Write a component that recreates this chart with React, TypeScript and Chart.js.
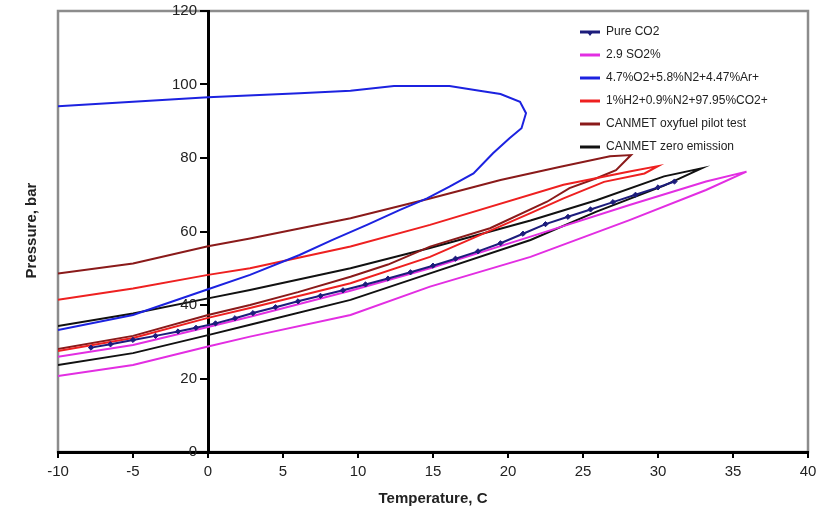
import React, { useEffect, useRef } from "react";
import { Chart, registerables } from "chart.js";

Chart.register(...registerables);

// ---- data (Temperature, C  /  Pressure, bar) ----
const seriesLabels = [
  "Pure CO2",
  "2.9 SO2%",
  "4.7%O2+5.8%N2+4.47%Ar+",
  "1%H2+0.9%N2+97.95%CO2+",
  "CANMET oxyfuel pilot test",
  "CANMET zero emission",
];

const pureT = [-7.8, -6.5, -5, -3.5, -2, -0.8, 0.5, 1.8, 3, 4.5, 6, 7.5, 9, 10.5, 12, 13.5, 15, 16.5, 18, 19.5, 21, 22.5, 24, 25.5, 27, 28.5, 30, 31.1];
const pureP = [28.4, 29.3, 30.5, 31.6, 32.8, 33.8, 35.0, 36.4, 37.8, 39.4, 41.0, 42.5, 44.0, 45.6, 47.2, 48.9, 50.7, 52.6, 54.6, 56.8, 59.4, 62.0, 64.0, 66.0, 68.0, 70.0, 72.0, 73.6];

const so2T = [-10, -5, 0, 2.8, 9.5, 14.8, 21.5, 28.1, 33.2, 35.9, 33.2, 28.1, 21.5, 14.8, 9.5, 2.8, 0, -5, -10];
const so2P = [25.9, 29.1, 34.0, 36.8, 43.9, 50.0, 58.6, 67.2, 73.6, 76.3, 71.3, 63.1, 53.1, 45.0, 37.3, 31.4, 28.7, 23.7, 20.7];

const o2T = [-10, -5, 0, 6.1, 9.5, 12.4, 16.1, 18.1, 19.5, 20.8, 21.2, 20.9, 20.1, 19.0, 17.7, 16.1, 14.6, 12.8, 10.6, 8.3, 6.1, 2.8, 0, -5, -10];
const o2P = [94.1, 95.3, 96.5, 97.6, 98.3, 99.6, 99.6, 98.3, 97.4, 95.3, 92.2, 88.1, 85.4, 81.3, 75.8, 72.2, 69.0, 65.9, 61.8, 57.7, 53.6, 48.2, 44.3, 37.3, 33.2];

const h2T = [-10, -5, 0, 2.8, 9.5, 14.8, 23.7, 28.1, 30.0, 29.1, 26.4, 23.7, 21.5, 14.8, 9.5, 2.8, 0, -5, -10];
const h2P = [41.4, 44.5, 48.2, 50.0, 55.9, 61.8, 72.7, 76.3, 77.8, 75.8, 73.5, 69.0, 65.0, 53.1, 45.9, 39.2, 36.5, 31.0, 27.5];

const oxyT = [-10, -5, 0, 2.8, 6.1, 9.5, 14.8, 19.5, 23.5, 26.8, 28.2, 27.2, 25.9, 24.1, 22.6, 18.8, 14.8, 12, 9.5, 6, 2.8, 0, -5, -10];
const oxyP = [48.6, 51.3, 56.0, 58.1, 60.8, 63.6, 69.0, 74.0, 77.6, 80.5, 80.8, 76.7, 74.5, 71.8, 68.1, 60.9, 55.9, 51.0, 47.7, 43.5, 40.0, 37.3, 31.6, 28.0];

const zeroT = [-10, -5, 0, 2.8, 9.5, 14.8, 21.5, 25.9, 30.4, 32.9, 30.4, 25.9, 21.5, 14.8, 9.5, 2.8, 0, -5, -10];
const zeroP = [34.3, 37.7, 41.8, 44.1, 50.0, 55.5, 63.0, 68.5, 75.0, 77.2, 72.5, 65.4, 57.7, 48.6, 41.4, 34.6, 31.8, 26.9, 23.7];

const seriesColors = ["#1c1c7c", "#e22ee2", "#1c22e0", "#ee2020", "#8a1a1a", "#111111"];

const xMin = -10, xMax = 40, xStep = 5;
const yMin = 0, yMax = 120, yStep = 20;

const FONT = "'Liberation Sans', Arial, sans-serif";

function pts(t: number[], p: number[]) {
  return t.map((x, i) => ({ x, y: p[i] }));
}

const framePlugin = {
  id: "frame",
  beforeDraw(chart: any) {
    const { ctx, chartArea: a } = chart;
    ctx.save();
    ctx.strokeStyle = "#8c8c8c";
    ctx.lineWidth = 2.5;
    ctx.strokeRect(a.left, a.top, a.right - a.left, a.bottom - a.top);
    ctx.restore();
  },
};

const yLabelsPlugin = {
  id: "yLabels",
  afterDraw(chart: any) {
    const { ctx, chartArea: a, scales } = chart;
    const ys = scales.y;
    const axisX = scales.x.getPixelForValue(0);
    ctx.save();
    ctx.font = `15px ${FONT}`;
    ctx.fillStyle = "#222";
    ctx.textAlign = "right";
    ctx.textBaseline = "middle";
    ys.ticks.forEach((t: any) => {
      ctx.fillText(String(t.value), axisX - 11, ys.getPixelForValue(t.value));
    });
    // y axis title
    ctx.translate(a.left - 26, (a.top + a.bottom) / 2 - 1);
    ctx.rotate(-Math.PI / 2);
    ctx.font = `bold 15px ${FONT}`;
    ctx.textAlign = "center";
    ctx.fillText("Pressure, bar", 0, 0);
    ctx.restore();
  },
};

const legendPlugin = {
  id: "customLegend",
  afterDraw(chart: any) {
    const { ctx, chartArea: a } = chart;
    const x0 = a.right - 228;
    const y0 = a.top + 21;
    ctx.save();
    ctx.font = `12px ${FONT}`;
    ctx.textBaseline = "middle";
    ctx.textAlign = "left";
    chart.data.datasets.forEach((ds: any, i: number) => {
      const y = y0 + 23 * i;
      ctx.strokeStyle = ds.borderColor;
      ctx.lineWidth = 3;
      ctx.beginPath();
      ctx.moveTo(x0, y);
      ctx.lineTo(x0 + 20, y);
      ctx.stroke();
      if (i === 0) {
        ctx.fillStyle = ds.borderColor;
        ctx.beginPath();
        ctx.moveTo(x0 + 7, y);
        ctx.lineTo(x0 + 13, y);
        ctx.lineTo(x0 + 10, y + 4);
        ctx.closePath();
        ctx.fill();
      }
      ctx.fillStyle = "#222";
      ctx.fillText(ds.label, x0 + 26, y);
    });
    ctx.restore();
  },
};

export default function App() {
  const ref = useRef<HTMLCanvasElement | null>(null);

  useEffect(() => {
    if (!ref.current) return;
    const seriesData = [
      pts(pureT, pureP),
      pts(so2T, so2P),
      pts(o2T, o2P),
      pts(h2T, h2P),
      pts(oxyT, oxyP),
      pts(zeroT, zeroP),
    ];
    const datasets = seriesLabels.map((label, i) => ({
      label,
      data: seriesData[i],
      borderColor: seriesColors[i],
      backgroundColor: seriesColors[i],
      borderWidth: 2,
      showLine: true,
      tension: 0,
      pointRadius: i === 0 ? 2.6 : 0,
      pointStyle: "rectRot" as const,
      pointBorderWidth: 1,
    }));

    const chart = new Chart(ref.current, {
      type: "scatter",
      data: { datasets },
      plugins: [framePlugin, yLabelsPlugin, legendPlugin],
      options: {
        animation: false,
        responsive: true,
        maintainAspectRatio: false,
        layout: { padding: { left: 58, right: 19, top: 11, bottom: 5 } },
        plugins: {
          legend: { display: false },
          tooltip: { enabled: false },
        },
        scales: {
          x: {
            type: "linear",
            position: "bottom",
            min: xMin,
            max: xMax,
            ticks: {
              stepSize: xStep,
              color: "#222",
              font: { family: FONT, size: 15 },
              padding: 5,
              maxRotation: 0,
            },
            grid: {
              drawOnChartArea: false,
              drawTicks: true,
              tickLength: 6,
              color: "#000",
              lineWidth: 2,
            },
            border: { display: true, color: "#000", width: 3 },
            title: {
              display: true,
              text: "Temperature, C",
              color: "#222",
              font: { family: FONT, size: 15, weight: "bold" },
              padding: { top: 4, bottom: 0 },
            },
          },
          y: {
            type: "linear",
            position: { x: 0 } as any,
            min: yMin,
            max: yMax,
            ticks: {
              stepSize: yStep,
              display: false,
            },
            grid: {
              drawOnChartArea: false,
              drawTicks: true,
              tickLength: 7,
              color: "#000",
              lineWidth: 2,
            },
            border: { display: true, color: "#000", width: 3 },
          },
        },
      },
    });
    return () => chart.destroy();
  }, []);

  return (
    <div style={{ position: "fixed", left: 0, top: 0, width: 827, height: 513, background: "#fff" }}>
      <canvas ref={ref} />
    </div>
  );
}
